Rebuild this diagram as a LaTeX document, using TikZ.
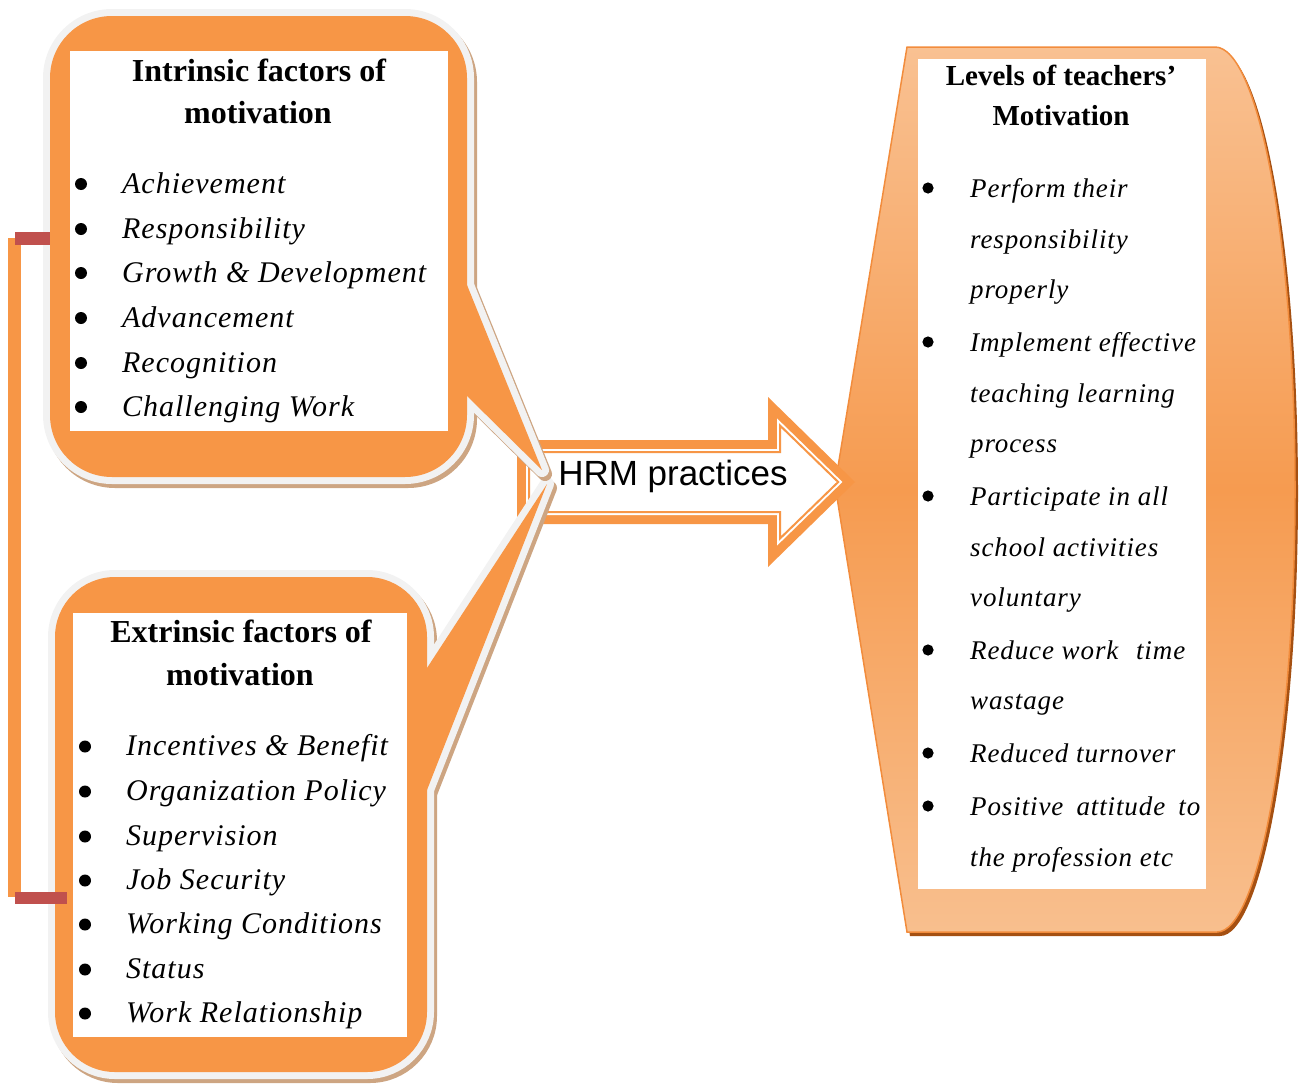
\documentclass[tikz,border=0pt]{standalone}
\usepackage{fontspec}
\setmainfont{Liberation Serif}
\newfontfamily\itspfam{Liberation Serif}[LetterSpace=3.3]
\newfontfamily\hrmfam{Liberation Sans}
\newcommand\mylit{\itspfam\itshape\fontsize{30}{36}\selectfont}
\newcommand\myrit{\itspfam\itshape\fontsize{27}{32}\selectfont}
\newcommand\mylhead{\bfseries\fontsize{32}{38}\selectfont}
\newcommand\myrhead{\bfseries\fontsize{29}{35}\selectfont}
\newcommand\myhrm{\hrmfam\fontsize{35}{40}\selectfont}
\definecolor{orc}{HTML}{F79646}
\definecolor{ringc}{HTML}{F2F2F2}
\definecolor{shadowc}{RGB}{205,165,130}
\definecolor{redbar}{HTML}{C0504D}
\definecolor{rtop}{HTML}{F9C192}
\definecolor{rmid}{HTML}{F69B50}
\definecolor{rbot}{HTML}{F8BF8E}
\definecolor{rshadow}{RGB}{165,80,18}
\definecolor{rborder}{HTML}{F28C3C}
\tikzset{
  litem/.style={font=\mylit, anchor=base west, inner sep=0pt},
  ritem/.style={font=\myrit, anchor=base west, inner sep=0pt},
  lhd/.style={font=\mylhead, anchor=base, inner sep=0pt},
  rhd/.style={font=\myrhead, anchor=base, inner sep=0pt},
  ringline/.style={draw=ringc, line width=14pt, line join=round},
  shadline/.style={draw=shadowc, fill=shadowc, line width=14pt, line join=round},
  bulletdot/.style={fill=black}
}
\begin{document}
\begin{tikzpicture}[x=1pt,y=-1pt]
\useasboundingbox (0,0) rectangle (1301,1084);

% ---------- right shape ----------
\fill[rshadow] (910,51) -- (1218,51) .. controls (1262,51) and (1298,249) .. (1298,493.5)
   .. controls (1298,738) and (1262,936) .. (1220,936) -- (910,936) -- (838,489) -- cycle;
\shade[top color=rtop, bottom color=rbot, middle color=rmid, draw=rborder, line width=1.5pt]
   (907,47) -- (1215,47) .. controls (1259,47) and (1295,245) .. (1295,489.5)
   .. controls (1295,734) and (1259,932) .. (1217,932) -- (907,932) -- (835,485) -- cycle;
\fill[white] (918,59) rectangle (1206,889);

% ---------- HRM arrow ----------
\fill[orc] (517,440) -- (768,440) -- (768,397) -- (855,482) -- (768,567) -- (768,524) -- (517,524) -- cycle;
\fill[white] (526,449) -- (777,449) -- (777,418.4) -- (842.4,482) -- (777,545.6) -- (777,515) -- (526,515) -- cycle;
\draw[orc, line width=2pt, fill=white] (529,452) -- (780,452) -- (780,425.5) -- (838.2,482) -- (780,538.5) -- (780,512) -- (529,512) -- cycle;
\node[font=\myhrm, anchor=base, inner sep=0pt] (hrm) at (673,485) {HRM practices};

% ---------- bottom callout ----------
\begin{scope}[shift={(3,4)}]
  \draw[shadline, rounded corners=60pt] (55,577) rectangle (427,1072);
  \draw[shadline] (400,668) -- (427,668) -- (547,484) -- (427,790) -- (400,790) -- cycle;
\end{scope}
\draw[ringline, rounded corners=60pt] (55,577) rectangle (427,1072);
\draw[ringline] (400,668) -- (427,668) -- (547,484) -- (427,790) -- (400,790) -- cycle;
\fill[orc, rounded corners=60pt] (55,577) rectangle (427,1072);
\fill[orc] (400,668) -- (427,668) -- (547,484) -- (427,790) -- (400,790) -- cycle;
\fill[white] (73,613) rectangle (407,1037);

% ---------- top callout ----------
\begin{scope}[shift={(3,4)}]
  \draw[shadline, rounded corners=62pt] (50,16) rectangle (467,477);
  \draw[shadline] (440,285) -- (467,285) -- (542,470) -- (467,396) -- (440,396) -- cycle;
\end{scope}
\draw[ringline, rounded corners=62pt] (50,16) rectangle (467,477);
\draw[ringline] (440,285) -- (467,285) -- (542,470) -- (467,396) -- (440,396) -- cycle;
\fill[orc, rounded corners=62pt] (50,16) rectangle (467,477);
\fill[orc] (440,285) -- (467,285) -- (542,470) -- (467,396) -- (440,396) -- cycle;
\fill[white] (70,51) rectangle (448,431);

% ---------- left bracket ----------
\fill[orc] (8,238) rectangle (21,897);
\fill[redbar] (15,232) rectangle (50,245);
\fill[redbar] (15,892) rectangle (67,904);

% ---------- top callout text ----------
\node[lhd] (ih1) at (259,81) {Intrinsic factors of};
\node[lhd] (ih2) at (258,123) {motivation};
\foreach \yy/\tt [count=\i] in {193/Achievement, 238/Responsibility, 282/Growth \& Development,
    327/Advancement, 372/Recognition, 416/Challenging Work}{
  \fill[bulletdot] (81,\yy-9) circle (6);
  \node[litem] (ii\i) at (122,\yy) {\tt};
}

% ---------- bottom callout text ----------
\node[lhd] (eh1) at (241,642) {Extrinsic factors of};
\node[lhd] (eh2) at (240,685) {motivation};
\foreach \yy/\tt [count=\i] in {755/Incentives \& Benefit, 800/Organization Policy, 845/Supervision,
    889/Job Security, 933/Working Conditions, 978/Status, 1022/Work Relationship}{
  \fill[bulletdot] (85,\yy-8.5) circle (6);
  \node[litem] (ei\i) at (126,\yy) {\tt};
}

% ---------- right text ----------
\node[rhd] (rh1) at (1061,85) {Levels of teachers’};
\node[rhd] (rh2) at (1061,125) {Motivation};
\foreach \yy in {197,351,505,659,762,815}{
  \fill[bulletdot] (928,\yy-9) circle (5.6);
}
\node[ritem] (r1) at (970,197) {Perform their};
\node[ritem] (r2) at (970,248) {responsibility};
\node[ritem] (r3) at (970,298) {properly};
\node[ritem] (r4) at (970,351) {Implement effective};
\node[ritem] (r5) at (970,402) {teaching learning};
\node[ritem] (r6) at (970,452) {process};
\node[ritem] (r7) at (970,505) {Participate in all};
\node[ritem] (r8) at (970,556) {school activities};
\node[ritem] (r9) at (970,606) {voluntary};
\node[ritem] (r10) at (970,659) {Reduce work\hspace{10pt} time};
\node[ritem] (r11) at (970,709) {wastage};
\node[ritem] (r12) at (970,762) {Reduced turnover};
\node[ritem] (r13) at (970,815) {\makebox[230pt][s]{Positive attitude to}};
\node[ritem] (r14) at (970,866) {the profession etc};
\end{tikzpicture}
\end{document}
